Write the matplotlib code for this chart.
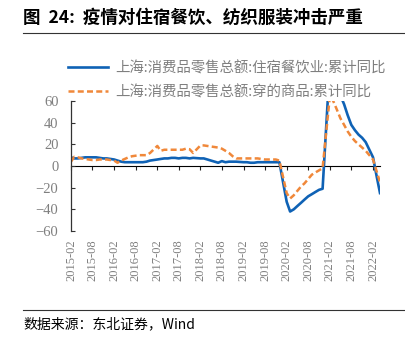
import datetime as dt
import matplotlib
matplotlib.use("Agg")
import matplotlib.pyplot as plt
import matplotlib.dates as mdates

plt.rcParams['font.family'] = ['Noto Sans CJK SC', 'DejaVu Sans']

# monthly cumulative YoY (%), Jan-Feb reported together so January is absent
months = [dt.date(y, m, 1) for y in range(2015, 2022) for m in range(2, 13)]
months += [dt.date(2022, 2, 1), dt.date(2022, 3, 1), dt.date(2022, 4, 1)]

catering = [
    8, 7, 7, 7.5, 8, 8, 8, 8, 7.5, 7, 7,
    6, 5, 4, 3.5, 3.5, 3.5, 3.5, 3.5, 3.5, 4, 5,
    6, 6.5, 7, 7, 7.5, 7.5, 7, 7.5, 7.5, 7, 7.5,
    7, 7, 6, 5, 4, 3, 4.5, 3.5, 4, 4, 4,
    3.5, 3.5, 3, 3, 3.5, 3.5, 3.5, 3.5, 3.5, 3.5, 3.5,
    -33, -42, -40, -37, -34, -31, -28, -26, -24, -22, -21,
    95, 85, 75, 65, 57, 47, 38, 33, 29, 26, 22,
    8, -8, -25,
]
clothing = [
    4, 8.5, 8, 7, 6.5, 6, 5.5, 5.5, 6, 6, 6,
    5, 3, 5, 6.5, 8, 9, 9.5, 10, 10, 10, 12,
    18.5, 14, 15, 15, 15, 15, 15, 15, 16, 15.5, 12,
    19, 19, 18.5, 18, 17.5, 17, 16, 14, 12, 9, 7,
    7, 7, 7, 7, 7, 6.5, 6, 6, 6, 6, 5,
    -25, -30, -27, -23, -19, -16, -12, -8, -6, -4, -2,
    65, 60, 52, 44, 38, 32, 27, 23, 20, 17, 14,
    6, -4, -15,
]
labels = ['上海:消费品零售总额:住宿餐饮业:累计同比',
          '上海:消费品零售总额:穿的商品:累计同比']
yticks = [-60, -40, -20, 0, 20, 40, 60]

blue = '#0f62b5'
orange = '#f0883a'
grey = '#7f7f7f'

W, H = 406, 337
fig = plt.figure(figsize=(W / 100, H / 100), dpi=100)
ax = fig.add_axes([71 / W, 1 - 231 / H, (380 - 71) / W, (231 - 101) / H])

ax.plot(months, catering, color=blue, lw=1.9, label=labels[0])
ax.plot(months, clothing, color=orange, lw=1.8, dashes=(2.4, 1.3), label=labels[1])

ax.set_ylim(-60, 60)
ax.set_xlim(dt.date(2015, 2, 1), dt.date(2022, 4, 1))
ax.set_yticks(yticks)

xt = [dt.date(y, m, 1) for y in range(2015, 2023) for m in (2, 8)][:-1]
ax.set_xticks(xt)
ax.xaxis.set_major_formatter(mdates.DateFormatter('%Y-%m'))
ax.tick_params(axis='x', length=0, rotation=90, labelsize=9, labelcolor=grey, pad=6)
ax.tick_params(axis='y', direction='in', length=3, width=0.8, labelsize=10.5,
               labelcolor=grey, color='#333333', pad=9)
for t in ax.get_xticklabels() + ax.get_yticklabels():
    t.set_fontfamily(['Liberation Serif'])

for s in ('top', 'right', 'bottom'):
    ax.spines[s].set_visible(False)
ax.spines['left'].set_color('#333333')
ax.spines['left'].set_linewidth(0.9)

# zero line carrying the small upward ticks
zero = ax.secondary_xaxis(0.5)
zero.set_xticks(xt)
zero.tick_params(direction='in', length=3, width=0.8, color='#222222', labelbottom=False)
zero.xaxis.set_ticklabels([])
zero.spines['bottom'].set_color('#222222')
zero.spines['bottom'].set_linewidth(0.9)

leg = ax.legend(loc='upper left', bbox_to_anchor=(68 / W, 1 - 61 / H),
                bbox_transform=fig.transFigure, frameon=False, fontsize=10.4,
                handlelength=2.8, handletextpad=0.5, labelspacing=0.7,
                borderaxespad=0, borderpad=0)
for t in leg.get_texts():
    t.set_color(grey)

fig.text(23 / W, 1 - 18 / H, '图  24:  疫情对住宿餐饮、纺织服装冲击严重',
         fontsize=12.6, fontweight='bold', va='center', ha='left')
fig.add_artist(plt.Line2D([23 / W, 1], [1 - 33 / H] * 2, color='#333333', lw=0.8))
fig.add_artist(plt.Line2D([23 / W, 1], [1 - 310 / H] * 2, color='#333333', lw=0.8))
fig.text(23 / W, 1 - 324 / H, '数据来源：东北证券，Wind', fontsize=10,
         va='center', ha='left')

fig.savefig('out.png', dpi=100)
